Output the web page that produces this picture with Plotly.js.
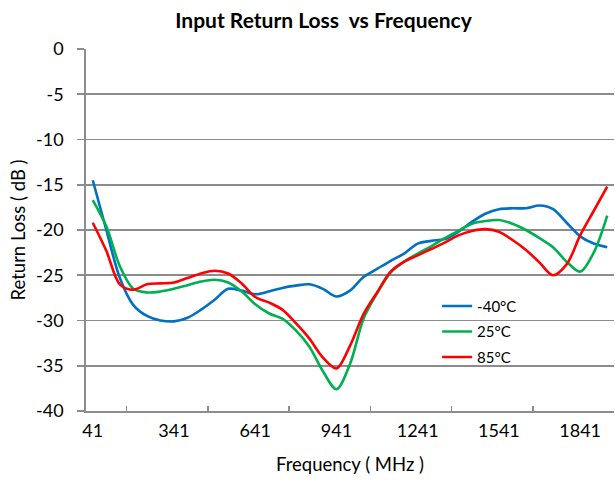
<!DOCTYPE html>
<html>
<head>
<meta charset="utf-8">
<script src="https://cdn.plot.ly/plotly-3.0.1.min.js"></script>
<style>html,body{margin:0;padding:0;background:#fff;}#chart{width:615px;height:481px;}</style>
</head>
<body>
<div id="chart"></div>
<script>
// Frequency points (MHz)
const freq = [41,91,141,191,241,291,341,391,441,491,541,591,641,691,741,791,841,891,941,991,
  1041,1091,1141,1191,1241,1291,1341,1391,1441,1491,1541,1591,1641,1691,1741,1791,1841,1891,1941];

const rlMinus40 = [-14.5,-20.0,-25.3,-28.3,-29.5,-30.0,-30.1,-29.7,-28.8,-27.7,-26.5,-26.7,-27.1,-26.8,-26.4,-26.15,-26.0,-26.5,-27.35,-26.7,
  -25.2,-24.3,-23.4,-22.6,-21.5,-21.2,-21.0,-20.2,-19.1,-18.2,-17.7,-17.6,-17.6,-17.3,-17.7,-19.2,-20.7,-21.5,-21.9];

const rl25 = [-16.7,-19.6,-24.0,-26.5,-26.9,-26.8,-26.5,-26.1,-25.7,-25.5,-25.8,-26.8,-28.2,-29.2,-29.8,-31.1,-32.9,-35.6,-37.6,-34.8,
  -29.8,-27.0,-24.7,-23.5,-22.6,-21.8,-20.9,-20.1,-19.3,-19.0,-18.9,-19.3,-20.0,-20.9,-21.9,-23.5,-24.6,-22.5,-18.4];

const rl85 = [-19.2,-22.3,-26.0,-26.6,-26.0,-25.9,-25.8,-25.3,-24.8,-24.5,-24.8,-25.9,-27.4,-28.0,-28.8,-30.3,-32.0,-34.1,-35.3,-32.8,
  -29.3,-26.9,-24.6,-23.5,-22.8,-22.1,-21.4,-20.6,-20.1,-19.9,-20.2,-21.1,-22.2,-23.6,-25.0,-23.8,-20.6,-17.9,-15.2];

const seriesNames = ['-40°C','25°C','85°C'];
const xTickVals = [41,341,641,941,1241,1541,1841];
const xTickText = ['41','341','641','941','1241','1541','1841'];
const xMinorTicks = [166,466,766,1066,1366,1666];
const yTickVals = [0,-5,-10,-15,-20,-25,-30,-35,-40];
const yTickText = ['0','-5','-10','-15','-20','-25','-30','-35','-40'];

const colors = ['#0070C0','#00B050','#FF0000'];
const FONT = 'Lato, "Open Sans", sans-serif';
const GRID = '#8c8c8c';

const series = [rlMinus40, rl25, rl85];
const data = series.map((ys, i) => ({
  x: freq, y: ys, type: 'scatter', mode: 'lines', name: seriesNames[i],
  legendgroup: 'g' + i,
  line: {color: colors[i], width: 2.6, shape: 'spline', smoothing: 0.9}
}));

const layout = {
  width: 615, height: 481,
  margin: {l: 86, r: 1, t: 49, b: 70},
  paper_bgcolor: '#fff', plot_bgcolor: '#fff',
  font: {family: FONT, color: '#000', size: 18},
  title: {text: '<b>Input Return Loss&nbsp; vs Frequency</b>', font: {family: FONT, size: 21, color: '#000'},
    x: 0.526, xref: 'container', xanchor: 'center', y: 0.958, yref: 'container', yanchor: 'middle'},
  xaxis: {
    range: [16, 1966], tickmode: 'array', tickvals: xTickVals, ticktext: xTickText,
    ticks: '', showgrid: false, zeroline: false, showline: true, linecolor: GRID, linewidth: 1.8,
    tickfont: {size: 18}, ticklabelstandoff: 3,
    minor: {tickmode: 'array', tickvals: xMinorTicks, ticks: 'inside', ticklen: 5, tickwidth: 1.5, tickcolor: GRID, showgrid: false},
    title: {text: 'Frequency ( MHz )', font: {size: 18.5}, standoff: 18}
  },
  yaxis: {
    range: [-40, 0], tickmode: 'array', tickvals: yTickVals, ticktext: yTickText,
    ticks: 'outside', ticklen: 7, tickwidth: 1.8, tickcolor: GRID,
    showgrid: true, gridcolor: GRID, gridwidth: 1.8, zeroline: false,
    showline: true, linecolor: GRID, linewidth: 1.8,
    tickfont: {size: 18}, ticklabelstandoff: 10,
    title: {text: 'Return Loss ( dB )', font: {size: 18.5}, standoff: 5}
  },
  showlegend: true,
  legend: {x: 0.665, y: 0.335, xanchor: 'left', yanchor: 'top', bgcolor: 'rgba(0,0,0,0)',
    font: {size: 15}, traceorder: 'grouped', tracegroupgap: 3}
};

Plotly.newPlot('chart', data, layout, {displayModeBar: false, staticPlot: true});
</script>
</body>
</html>
